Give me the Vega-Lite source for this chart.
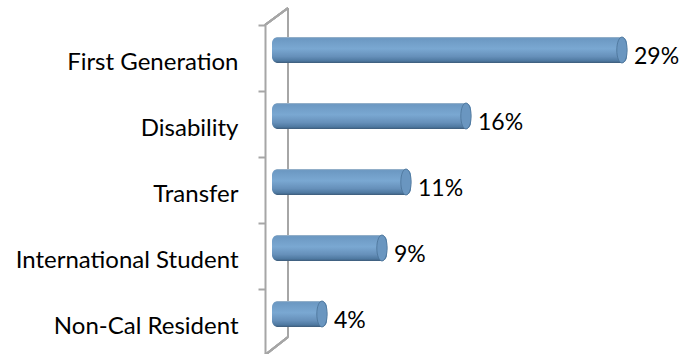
{
  "$schema": "https://vega.github.io/schema/vega-lite/v6.json",
  "autosize": {"type": "none"},
  "width": 415,
  "height": 330,
  "padding": {"left": 265, "top": 25, "right": 0, "bottom": 0},
  "background": "white",
  "config": {"view": {"stroke": null}},
  "data": {"values": [
    {"cat": "First Generation", "pct": 29, "label": "29%"},
    {"cat": "Disability", "pct": 16, "label": "16%"},
    {"cat": "Transfer", "pct": 11, "label": "11%"},
    {"cat": "International Student", "pct": 9, "label": "9%"},
    {"cat": "Non-Cal Resident", "pct": 4, "label": "4%"}
  ]},
  "layer": [
    {
      "mark": {"type": "rule", "color": "#A6A6A6", "strokeWidth": 2, "yOffset": -50, "y2Offset": 15},
      "encoding": {
        "x": {"datum": 0.75, "type": "quantitative", "scale": {"domain": [-1.167, 33.42], "nice": false, "zero": false}, "axis": null},
        "y": {"datum": "First Generation", "type": "nominal", "scale": {"domain": ["First Generation", "Disability", "Transfer", "International Student", "Non-Cal Resident"], "paddingInner": 0, "paddingOuter": 0}},
        "y2": {"datum": "Non-Cal Resident"}
      }
    },
    {
      "mark": {"type": "rule", "color": "#A6A6A6", "strokeWidth": 2, "yOffset": -33, "y2Offset": -50},
      "encoding": {
        "x": {"datum": -1.167, "type": "quantitative"},
        "x2": {"datum": 0.75},
        "y": {"datum": "First Generation", "type": "nominal"},
        "y2": {"datum": "First Generation"}
      }
    },
    {
      "mark": {"type": "rule", "color": "#A6A6A6", "strokeWidth": 2, "yOffset": 33, "y2Offset": 15},
      "encoding": {
        "x": {"datum": -1.167, "type": "quantitative"},
        "x2": {"datum": 0.75},
        "y": {"datum": "Non-Cal Resident", "type": "nominal"},
        "y2": {"datum": "Non-Cal Resident"}
      }
    },
    {
      "mark": {
        "type": "bar", "size": 26, "yOffset": -8, "cornerRadius": 6,
        "color": {"gradient": "linear", "x1": 0, "y1": 0, "x2": 0, "y2": 1, "stops": [
          {"offset": 0, "color": "#A3B8CB"},
          {"offset": 0.06, "color": "#6C98C2"},
          {"offset": 0.45, "color": "#7AA8D2"},
          {"offset": 0.75, "color": "#6690BA"},
          {"offset": 0.92, "color": "#4E78A0"},
          {"offset": 1, "color": "#3C5A78"}
        ]}
      },
      "encoding": {
        "x": {"field": "pct", "type": "quantitative"},
        "x2": {"datum": -0.583},
        "y": {
          "field": "cat", "type": "nominal", "sort": null,
          "axis": {
            "title": null, "labelFont": "Lato", "labelFontSize": 24, "labelColor": "#000000", "labelLimit": 400,
            "labelPadding": 20, "labelOffset": 4.5, "tickSize": 7, "tickBand": "extent",
            "tickColor": "#A6A6A6", "tickWidth": 2, "domainColor": "#A6A6A6", "domainWidth": 2
          }
        }
      }
    },
    {
      "mark": {
        "type": "point", "shape": "M 0 -1 A 0.4 1 0 1 1 0 1 A 0.4 1 0 1 1 0 -1 Z", "size": 676,
        "filled": true, "fill": "#6A96C0", "stroke": "#4A7297", "strokeWidth": 0.8, "opacity": 1,
        "yOffset": -8, "xOffset": -5
      },
      "encoding": {"x": {"field": "pct", "type": "quantitative"}, "y": {"field": "cat", "type": "nominal", "sort": null}}
    },
    {
      "mark": {"type": "text", "align": "left", "baseline": "middle", "font": "Lato", "fontSize": 23, "color": "#000000", "dx": 7, "dy": -1},
      "encoding": {"x": {"field": "pct", "type": "quantitative"}, "y": {"field": "cat", "type": "nominal", "sort": null}, "text": {"field": "label"}}
    }
  ]
}
